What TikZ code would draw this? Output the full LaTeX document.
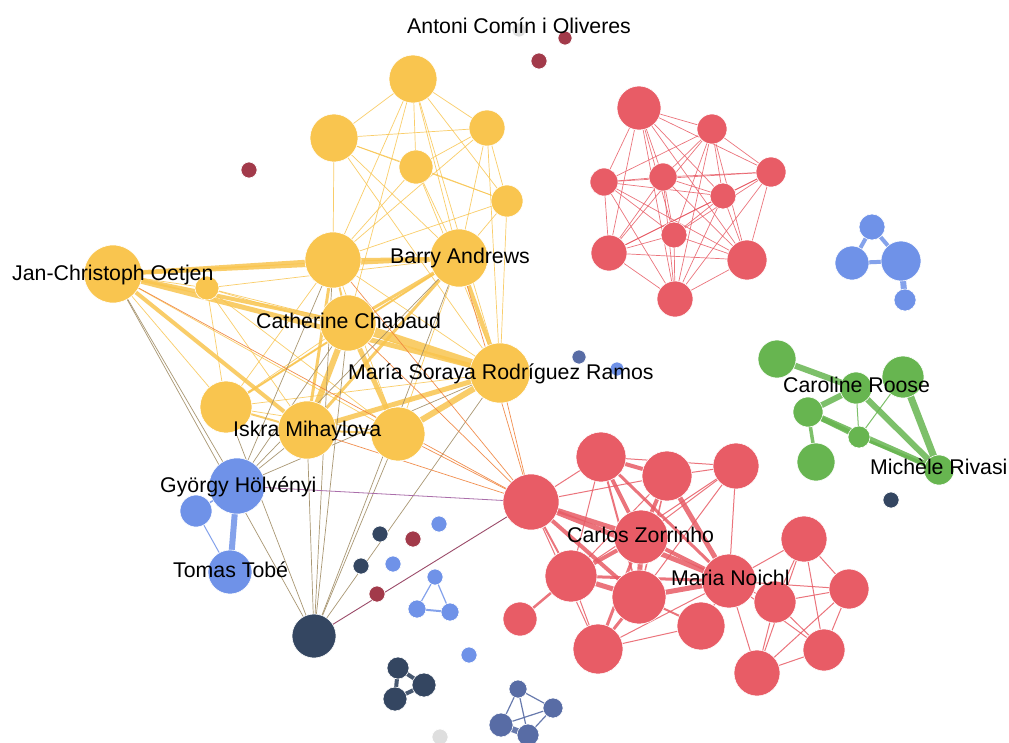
\documentclass[tikz,border=0pt]{standalone}
\usepackage{fontspec}
\setmainfont{Liberation Sans}
\usetikzlibrary{backgrounds}
\definecolor{yel}{RGB}{249,197,79}
\definecolor{rd}{RGB}{232,92,102}
\definecolor{blu}{RGB}{111,146,232}
\definecolor{nav}{RGB}{52,70,97}
\definecolor{sla}{RGB}{88,108,165}
\definecolor{cri}{RGB}{162,58,74}
\definecolor{grn}{RGB}{103,181,80}
\definecolor{lgr}{RGB}{222,222,222}
\definecolor{brn}{RGB}{160,140,100}
\definecolor{org}{RGB}{240,130,60}
\definecolor{pur}{RGB}{170,110,170}
\definecolor{mauve}{RGB}{155,75,105}
\newcommand\mynode[5]{\node[nd,fill=#5,minimum size={2*#4pt}] (#1) at (#2,#3) {};}
\begin{document}
\begin{tikzpicture}[x=1pt,y=-1pt,
  nd/.style={circle,inner sep=0pt,draw=white,line width=0.6pt},
  lab/.style={anchor=base west,inner sep=0pt,font=\fontsize{21.3}{24}\selectfont,text=black},
  ye/.style={draw=yel,opacity=0.85,line cap=round},
  re/.style={draw=rd,opacity=0.85,line cap=round},
  ge/.style={draw=grn,opacity=0.85},
  be/.style={draw=blu,opacity=0.85},
  ne/.style={draw=nav,opacity=0.9},
  se/.style={draw=sla,opacity=0.9},
  bre/.style={draw=brn,line width=0.7pt,opacity=0.9},
  oe/.style={draw=org,line width=0.7pt,opacity=0.9}]
\useasboundingbox (0,0) rectangle (1009,742);
% yellow
\mynode{YA}{413}{79}{24}{yel}
\mynode{YB}{334}{138}{24}{yel}
\mynode{YC}{487}{128}{18}{yel}
\mynode{YD}{416}{167}{17}{yel}
\mynode{YE}{507}{201}{16}{yel}
\mynode{YF}{333}{260}{28}{yel}
\mynode{BA}{459}{258}{29}{yel}
\mynode{JC}{113}{274}{29}{yel}
\mynode{YG}{207}{288}{12}{yel}
\mynode{CC}{348}{323}{28}{yel}
\mynode{MS}{500}{373}{30}{yel}
\mynode{YH}{226}{407}{26}{yel}
\mynode{IM}{307}{430}{29}{yel}
\mynode{YI}{398}{434}{27}{yel}
% light blue
\mynode{GH}{237}{486}{28}{blu}
\mynode{GS}{196}{511}{16}{blu}
\mynode{TT}{230}{572}{22}{blu}
\mynode{B1}{872}{227}{13}{blu}
\mynode{B2}{852}{263}{17}{blu}
\mynode{B3}{901}{261}{20}{blu}
\mynode{B4}{905}{300}{11}{blu}
\mynode{B5}{617}{369}{7}{blu}
\mynode{B6}{439}{524}{8}{blu}
\mynode{B7}{393}{564}{8}{blu}
\mynode{B8}{435}{577}{8}{blu}
\mynode{B9}{417}{609}{9}{blu}
\mynode{B10}{450}{612}{9}{blu}
\mynode{B11}{469}{655}{8}{blu}
% navy
\mynode{NB}{314}{636}{22}{nav}
\mynode{N1}{380}{534}{8}{nav}
\mynode{N2}{361}{566}{8}{nav}
\mynode{N3}{398}{668}{11}{nav}
\mynode{N4}{424}{685}{12}{nav}
\mynode{N5}{395}{699}{12}{nav}
\mynode{N6}{891}{500}{8}{nav}
% slate
\mynode{S0}{579}{357}{7}{sla}
\mynode{S1}{518}{689}{9}{sla}
\mynode{S2}{553}{708}{10}{sla}
\mynode{S3}{501}{725}{12}{sla}
\mynode{S4}{528}{735}{11}{sla}
% crimson
\mynode{C1}{565}{38}{7}{cri}
\mynode{C2}{539}{61}{8}{cri}
\mynode{C3}{249}{170}{8}{cri}
\mynode{C4}{413}{539}{8}{cri}
\mynode{C5}{377}{594}{8}{cri}
% gray
\mynode{Q0}{519}{30}{7}{lgr}
\mynode{Q1}{440}{737}{8}{lgr}
% red top
\mynode{R1}{639}{108}{22}{rd}
\mynode{R2}{712}{129}{15}{rd}
\mynode{R3}{604}{182}{14}{rd}
\mynode{R4}{663}{177}{14}{rd}
\mynode{R5}{771}{172}{15}{rd}
\mynode{R6}{723}{196}{13}{rd}
\mynode{R7}{674}{235}{13}{rd}
\mynode{R8}{609}{253}{18}{rd}
\mynode{R9}{747}{260}{20}{rd}
\mynode{R10}{675}{299}{18}{rd}
% red lower
\mynode{RA}{531}{502}{28}{rd}
\mynode{RB}{601}{457}{25}{rd}
\mynode{RC}{667}{476}{25}{rd}
\mynode{RD}{736}{466}{23}{rd}
\mynode{CZ}{641}{537}{27}{rd}
\mynode{RE}{571}{576}{26}{rd}
\mynode{RF}{639}{597}{27}{rd}
\mynode{MN}{729}{581}{27}{rd}
\mynode{RG}{804}{539}{23}{rd}
\mynode{RH}{849}{589}{20}{rd}
\mynode{RI}{775}{602}{21}{rd}
\mynode{RJ}{520}{619}{17}{rd}
\mynode{RK}{701}{626}{24}{rd}
\mynode{RL}{598}{649}{25}{rd}
\mynode{RM}{824}{650}{21}{rd}
\mynode{RN}{757}{673}{23}{rd}
% green
\mynode{G1}{777}{359}{19}{grn}
\mynode{G2}{856}{388}{16}{grn}
\mynode{G3}{903}{377}{21}{grn}
\mynode{G4}{808}{412}{15}{grn}
\mynode{G5}{859}{437}{11}{grn}
\mynode{G6}{816}{462}{19}{grn}
\mynode{MR}{939}{470}{15}{grn}

\begin{pgfonlayer}{background}
\fill[white] (0,0) rectangle (1009,742);
% yellow thin
\foreach \a/\b in {YA/YB,YA/YC,YA/YD,YA/BA,YA/YF,YA/MS,YA/YE,YA/CC,YB/YC,YB/YE,YB/YF,YB/BA,YB/MS,YB/YD,YC/YD,YC/YF,YC/BA,YC/MS,YC/YE,YD/YF,YD/BA,YD/MS,YD/YE,YE/YF,YE/BA,YE/MS,JC/YH,JC/YI,JC/YG,YG/BA,YG/YH,YG/IM,YG/MS,YG/YI,YH/MS,YH/BA,YH/YI,YF/MS,YF/YI,BA/YI,YH/CC,YF/YH,YG/CC}
  \draw[ye,line width=0.7pt] (\a.center) -- (\b.center);
% yellow weighted
\foreach \a/\b/\w in {JC/BA/4,JC/YF/4,JC/CC/4,JC/MS/5,CC/MS/9,CC/IM/6,CC/YI/5,CC/BA/3,BA/MS/4,IM/MS/5,YI/MS/6,YF/BA/3,YF/IM/3,YF/CC/2,IM/YI/2,YH/IM/2,BA/IM/3,JC/IM/4,YH/BA/2}
  \draw[ye,line width=\w pt] (\a.center) -- (\b.center);
% brown
\foreach \a/\b in {NB/JC,NB/IM,NB/YF,NB/CC,NB/YI,NB/BA,NB/MS,NB/YH,GH/JC,GH/YF,GH/CC,GH/IM,GH/BA,GH/MS}
  \draw[bre] (\a.center) -- (\b.center);
% orange
\foreach \a/\b in {RA/JC,RA/YF,RA/CC,RA/BA,RA/MS,RA/IM,RA/YI}
  \draw[oe] (\a.center) -- (\b.center);
\draw[pur,line width=0.8pt] (GH.center) -- (RA.center);
\draw[mauve,line width=0.9pt] (NB.center) -- (RA.center);
% red top cluster
\foreach \i in {1,...,9}{
  \pgfmathtruncatemacro\s{\i+1}
  \foreach \j in {\s,...,10}{\draw[re,line width=0.7pt] (R\i.center) -- (R\j.center);}
}
% red lower
\foreach \a/\b/\w in {RA/RB/1,RA/CZ/5,RA/RE/2,RA/RF/4,RA/MN/5,RA/RC/1,RE/RJ/2.5,RA/RL/1,
  RB/RC/4,RB/CZ/4,RB/MN/3,RB/RF/2,RB/RE/1,RB/RD/1,
  RC/RD/1,RC/CZ/4,RC/MN/5,RC/RF/1.5,RC/RE/1,
  RD/MN/1,RD/CZ/1,RD/RE/1,RD/RF/1,
  CZ/RE/4,CZ/RF/5,CZ/MN/4,CZ/RL/3,
  RE/RF/5,RE/MN/3,RE/RL/1,
  RF/MN/5,RF/RK/2,RF/RL/3,RL/MN/1,RL/RK/1,
  MN/RG/1,MN/RH/1,MN/RI/1,MN/RN/1,MN/RM/1,MN/RK/1,
  RG/RH/1,RG/RI/1,RG/RN/1,RG/RM/1,RH/RI/1,RH/RM/1,RH/RN/1,RI/RN/1,RI/RM/1,RM/RN/1}
  \draw[re,line width=\w pt] (\a.center) -- (\b.center);
% green
\foreach \a/\b/\w in {G1/G2/6,G2/G4/6,G2/MR/6,G3/MR/7,G4/MR/6,G4/G5/5,G5/MR/3,G4/G6/3.5,G2/G5/1,G3/G5/1}
  \draw[ge,line width=\w pt] (\a.center) -- (\b.center);
% blue
\foreach \a/\b/\w in {GH/TT/6,GS/TT/1,GH/GS/1.5,B1/B2/4,B1/B3/4,B2/B3/4,B3/B4/6,B8/B9/1.2,B8/B10/1.2,B9/B10/2}
  \draw[be,line width=\w pt] (\a.center) -- (\b.center);
% navy
\foreach \a/\b in {N3/N4,N3/N5,N4/N5}
  \draw[ne,line width=4pt] (\a.center) -- (\b.center);
% slate
\foreach \a/\b/\w in {S1/S2/1.2,S1/S3/1.2,S1/S4/1.2,S2/S3/1.2,S2/S4/1.2,S3/S4/6}
  \draw[se,line width=\w pt] (\a.center) -- (\b.center);
\end{pgfonlayer}

% labels
\node[lab] (lAC) at (407,33) {Antoni Comín i Oliveres};
\node[lab] (lBA) at (390,263) {Barry Andrews};
\node[lab] (lJC) at (12,280) {Jan-Christoph Oetjen};
\node[lab] (lCC) at (256,328) {Catherine Chabaud};
\node[lab] (lMS) at (348,379) {María Soraya Rodríguez Ramos};
\node[lab] (lIM) at (233,436) {Iskra Mihaylova};
\node[lab] (lGH) at (160,492) {György Hölvényi};
\node[lab] (lTT) at (173,577) {Tomas Tobé};
\node[lab] (lCR) at (783,392) {Caroline Roose};
\node[lab] (lMR) at (870,474) {Michèle Rivasi};
\node[lab] (lCZ) at (567,542) {Carlos Zorrinho};
\node[lab] (lMN) at (671,585) {Maria Noichl};
\end{tikzpicture}
\end{document}
